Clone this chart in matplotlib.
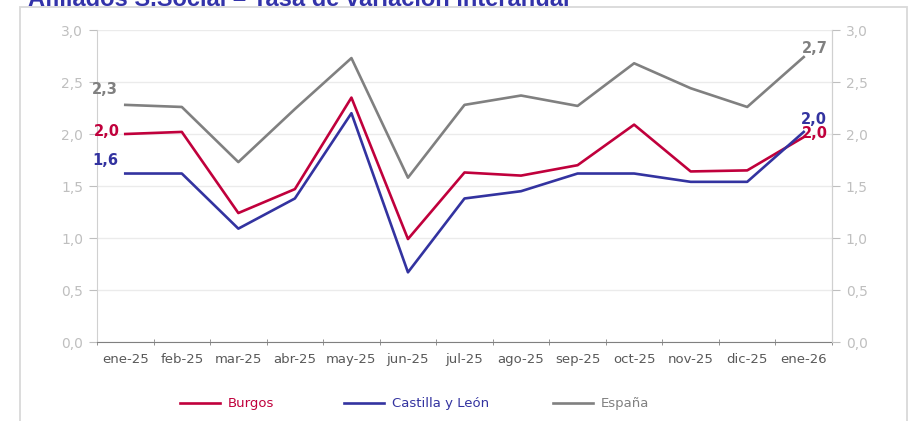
import matplotlib
matplotlib.use("Agg")
import matplotlib.pyplot as plt
from matplotlib.lines import Line2D
from matplotlib.patches import Rectangle
import numpy as np

months = ["ene-25", "feb-25", "mar-25", "abr-25", "may-25", "jun-25", "jul-25",
          "ago-25", "sep-25", "oct-25", "nov-25", "dic-25", "ene-26"]
burgos = [2.00, 2.02, 1.24, 1.47, 2.35, 0.99, 1.63, 1.60, 1.70, 2.09, 1.64, 1.65, 1.97]
cyl = [1.62, 1.62, 1.09, 1.38, 2.20, 0.67, 1.38, 1.45, 1.62, 1.62, 1.54, 1.54, 2.02]
espana = [2.28, 2.26, 1.73, 2.24, 2.73, 1.58, 2.28, 2.37, 2.27, 2.68, 2.44, 2.26, 2.74]
yticks = [0.0, 0.5, 1.0, 1.5, 2.0, 2.5, 3.0]
title = "Afiliados S.Social – Tasa de variación interanual"

c_bur = "#c0003c"
c_cyl = "#3333a0"
c_esp = "#808080"
c_tick = "#bfbfbf"

W, H = 908, 421
fig = plt.figure(figsize=(W / 100, H / 100), dpi=100)
plt.rcParams['font.family'] = ['DejaVu Sans']

# outer frame
fig.patches.append(Rectangle((20 / W, -0.05), (907 - 20) / W, 1.05 - 7 / H,
                             transform=fig.transFigure, fill=False,
                             edgecolor="#d9d9d9", lw=1.3))
fig.text(28 / W, 1 - 6 / H, title, ha="left", va="baseline",
         fontsize=17, fontweight="bold", color="#3333aa", family="Liberation Sans")

ax = fig.add_axes([97 / W, 1 - 342 / H, (832 - 97) / W, (342 - 30) / H])
x = np.arange(len(months))
ax.plot(x, espana, color=c_esp, lw=1.9, label="España", zorder=3)
ax.plot(x, burgos, color=c_bur, lw=1.9, label="Burgos", zorder=4)
ax.plot(x, cyl, color=c_cyl, lw=1.9, label="Castilla y León", zorder=4)

ax.set_xlim(-0.5, len(months) - 0.5)
ax.set_ylim(0, 3.0)
ax.set_yticks(yticks)
ax.set_yticklabels([f"{v:.1f}".replace(".", ",") for v in yticks])
ax.grid(axis="y", color="#ebebeb", lw=1.0)
ax.set_axisbelow(True)
ax.set_xticks(x)
ax.set_xticklabels(months)
ax.set_xticks(np.arange(len(months) + 1) - 0.5, minor=True)
ax.tick_params(axis="x", which="major", length=0, pad=8, labelsize=9.5, colors="#595959")
ax.tick_params(axis="x", which="minor", length=5, color="#808080", direction="inout")
ax.tick_params(axis="y", length=6, color=c_tick, labelcolor=c_tick, labelsize=10, pad=4)
ax.spines["top"].set_visible(False)
ax.spines["left"].set_color("#d0d0d0")
ax.spines["right"].set_color("#d0d0d0")
ax.spines["bottom"].set_color("#808080")
ax.spines["bottom"].set_zorder(5)

ax2 = ax.twinx()
ax2.set_ylim(ax.get_ylim())
ax2.set_yticks(yticks)
ax2.set_yticklabels([f"{v:.1f}".replace(".", ",") for v in yticks])
ax2.tick_params(axis="y", length=6, color=c_tick, labelcolor=c_tick, labelsize=10, pad=4)
for s in ["top", "left", "bottom"]:
    ax2.spines[s].set_visible(False)
ax2.spines["right"].set_color("#d0d0d0")

def fmt(v):
    return f"{v:.1f}".replace(".", ",")

lab_kw = dict(textcoords="offset pixels", fontsize=10.5, fontweight="bold")
ax.annotate(fmt(espana[0]), (x[0], espana[0]), xytext=(-8, 15), ha="right", va="center", color=c_esp, **lab_kw)
ax.annotate(fmt(burgos[0]), (x[0], burgos[0]), xytext=(-5, 2), ha="right", va="center", color=c_bur, **lab_kw)
ax.annotate(fmt(cyl[0]), (x[0], cyl[0]), xytext=(-7, 13), ha="right", va="center", color=c_cyl, **lab_kw)
ax.annotate(fmt(espana[-1]), (x[-1], espana[-1]), xytext=(-2, 9), ha="left", va="center", color=c_esp, **lab_kw)
ax.annotate(fmt(cyl[-1]), (x[-1], cyl[-1]), xytext=(-3, 12), ha="left", va="center", color=c_cyl, **lab_kw)
ax.annotate(fmt(burgos[-1]), (x[-1], burgos[-1]), xytext=(-2, 4), ha="left", va="center", color=c_bur, **lab_kw)

# legends
items = [("Burgos", c_bur, 180), ("Castilla y León", c_cyl, 344), ("España", c_esp, 553)]
for name, col, px in items:
    h = Line2D([], [], color=col, lw=1.9)
    fig.legend([h], [name], loc="center left", bbox_to_anchor=(px / W, 1 - 404 / H),
               frameon=False, handlelength=3.0, handletextpad=0.6, borderpad=0,
               borderaxespad=0, fontsize=9.5, labelcolor=col)
fig.savefig("out.png", dpi=100)
